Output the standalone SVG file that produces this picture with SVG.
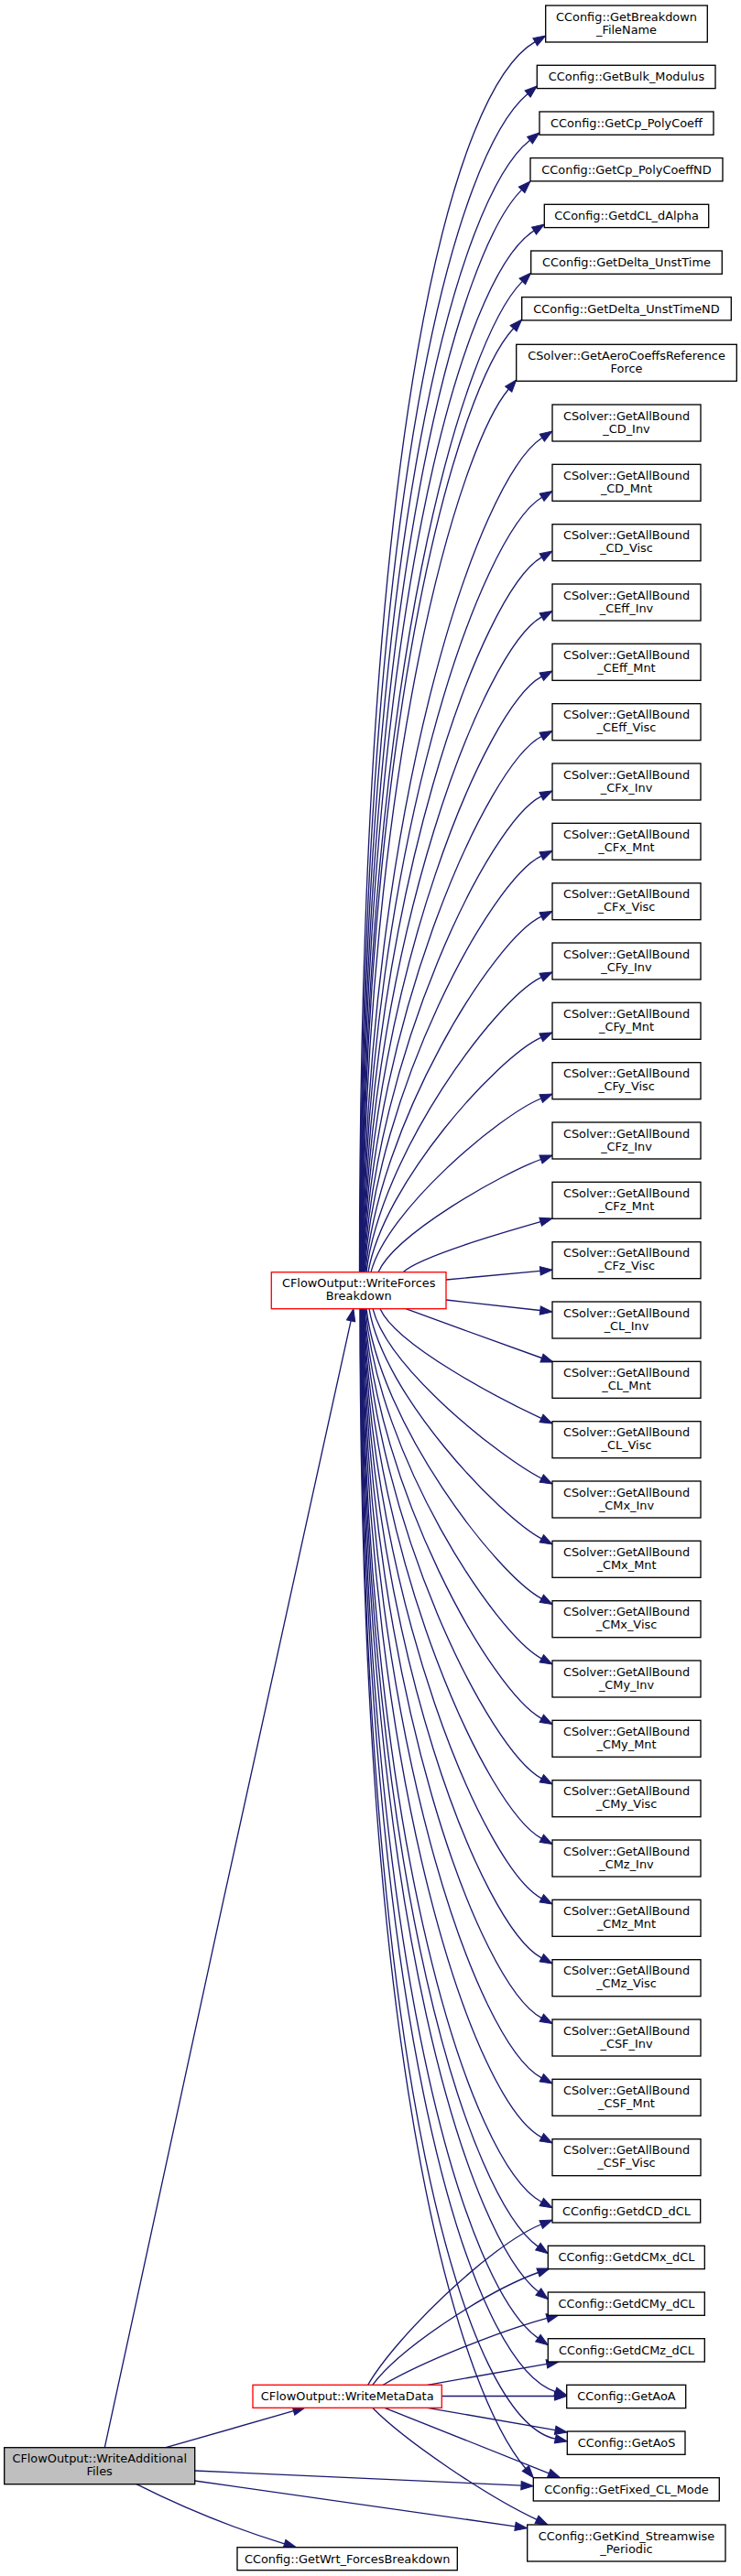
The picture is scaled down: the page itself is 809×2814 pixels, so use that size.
<svg xmlns="http://www.w3.org/2000/svg" width="809" height="2814" viewBox="0 0 809 2814">
<style>
.n rect{fill:#fff;stroke:#000;stroke-width:1.33}
.n.r rect{stroke:#f00}
.n.g rect{fill:#bfbfbf}
text{font-family:"DejaVu Sans","Liberation Sans",sans-serif;font-size:12.9px;text-anchor:middle;fill:#000}
.e path{fill:none;stroke:#191970;stroke-width:1.33;marker-end:url(#a)}
</style>
<defs>
<marker id="a" markerUnits="userSpaceOnUse" viewBox="0 0 14 10" markerWidth="14" markerHeight="10" refX="0" refY="5" orient="auto" overflow="visible">
<path d="M0,0.3 L13.3,5 L0,9.7 z" fill="#191970" stroke="#191970" stroke-width="1"/>
</marker>
</defs>
<rect width="809" height="2814" fill="#fff"/>
<g id="edges" class="e">
<path d="M392.5,1389.7 C392.5,448.9 497.6,95.7 584.2,45.7"/>
<path d="M393,1389.7 C393.9,510.6 501.5,165.2 576.1,102.6"/>
<path d="M393.3,1389.7 C394.9,563.7 503.6,211.8 578.5,153.2"/>
<path d="M393.7,1389.7 C396.1,618.8 504.1,272.9 569.6,207.4"/>
<path d="M394,1389.7 C397.1,663.9 506,300.2 583,252.1"/>
<path d="M394.3,1389.7 C398.2,716.5 507.9,369.8 570.3,307.4"/>
<path d="M394.7,1389.7 C399.4,763.9 501.9,421.6 560.6,358.7"/>
<path d="M395,1389.7 C400.7,823.5 501.8,488.8 555.2,425.2"/>
<path d="M395.3,1389.7 C401.7,869.3 524.1,522.3 591.8,478.3"/>
<path d="M395.6,1389.7 C403,922.5 525,583.3 591.6,543.3"/>
<path d="M396,1389.7 C404.4,974.2 526.6,646.2 591.5,608.7"/>
<path d="M396.3,1389.7 C405.7,1022.5 528.5,708.8 591.4,673.9"/>
<path d="M396.6,1389.7 C406.9,1068.4 530.4,771.6 591.3,739.2"/>
<path d="M397,1389.7 C408.3,1112.3 532.3,834.5 591.2,804.5"/>
<path d="M397.5,1389.7 C409.8,1153.1 534.2,897.5 591,869.8"/>
<path d="M398,1389.7 C411.2,1191.9 536.4,960.6 591,935.1"/>
<path d="M399,1389.7 C413.2,1228 539.1,1025.3 591,1001.1"/>
<path d="M400,1389.7 C415.2,1262.1 541.8,1090.6 591,1067.6"/>
<path d="M402,1389.7 C418.2,1293.3 543.7,1154.4 590.8,1133.4"/>
<path d="M405,1389.7 C422.2,1322.2 545.7,1218.2 590.7,1200"/>
<path d="M413,1389.7 C431.2,1348.2 547.7,1282.1 590.5,1266.5"/>
<path d="M440,1389.7 C459.2,1372.3 549.4,1346.4 590.2,1334.7"/>
<path d="M487,1398 L589.8,1388.3"/>
<path d="M487,1420 L589.8,1431.5"/>
<path d="M443,1429.7 C490,1447 550,1468.5 591.5,1483.5"/>
<path d="M415,1429.7 C433.1,1470.2 549.7,1530.1 591,1549.4"/>
<path d="M407,1429.7 C424.1,1496 547.8,1592.9 591.2,1615"/>
<path d="M403,1429.7 C419.1,1524.6 545.6,1656.5 591.3,1680.8"/>
<path d="M400,1429.7 C415.1,1556 542.9,1720.6 591.3,1746.3"/>
<path d="M399,1429.7 C413,1589.8 540.2,1784.6 591.3,1811.8"/>
<path d="M398,1429.7 C411,1626.6 537.4,1848.7 591.3,1877.3"/>
<path d="M397.5,1429.7 C409.5,1665.7 534.7,1912.7 591.3,1942.8"/>
<path d="M397,1429.7 C408,1708 532.1,1976.8 591.3,2008.3"/>
<path d="M396.6,1429.7 C406.5,1752.4 529.3,2040.9 591.3,2073.8"/>
<path d="M396.3,1429.7 C405.2,1799.9 526.7,2104.5 591.3,2138.8"/>
<path d="M396,1429.7 C403.9,1849.5 523.9,2168.5 591.3,2204.3"/>
<path d="M395.6,1429.7 C402.5,1901.8 521.2,2232.6 591.3,2269.8"/>
<path d="M395.3,1429.7 C401.2,1957.4 518.5,2296.2 591.3,2334.8"/>
<path d="M395,1429.7 C399.8,2020.1 515.6,2365.3 591.3,2405.5"/>
<path d="M394.7,1429.7 C398.7,2064.8 515.3,2403.6 587.4,2454.1"/>
<path d="M394.3,1429.7 C397.5,2112.6 516.6,2447.9 587.8,2503.5"/>
<path d="M394,1429.7 C396.4,2161.7 511.5,2500.9 587.4,2554.1"/>
<path d="M393.7,1429.7 C395.2,2222.2 515.7,2583.1 606.4,2612.6"/>
<path d="M393.3,1429.7 C394,2276.6 510.7,2643.9 606.3,2664.2"/>
<path d="M393,1429.7 C393.2,2311.4 509.9,2620.4 573.8,2696.5"/>
<path d="M401.7,2605.3 C431.7,2553 535,2452.5 590.7,2430"/>
<path d="M406.7,2605.3 C436.7,2565 531,2503 587.5,2482.5"/>
<path d="M418.3,2605.3 C460.8,2580 549,2545.4 597.2,2532.4"/>
<path d="M466.7,2605.3 L596.9,2582.3"/>
<path d="M482.3,2617.5 L605.4,2617.5"/>
<path d="M466.7,2630.3 L606.2,2654.7"/>
<path d="M420,2630.3 L599.3,2701.8"/>
<path d="M406.7,2630.3 C441.7,2666 531.6,2727 586,2752.4"/>
<path d="M114.3,2673.7 C196,2282 300,1830 383.1,1442.8"/>
<path d="M181,2673.7 L320.5,2633.7"/>
<path d="M212.7,2699 L569,2715.1"/>
<path d="M212.7,2710 L562.5,2759.8"/>
<path d="M149,2713.7 C202.4,2740.7 262.8,2764.2 310.6,2778.8"/>
</g>
<g id="WriteAdditionalFiles" class="n g"><rect x="4.7" y="2673.7" width="208" height="40"/><text x="108.7" y="2690.2">CFlowOutput::WriteAdditional</text><text x="108.7" y="2704.2">Files</text></g>
<g id="WriteForcesBreakdown" class="n r"><rect x="296.3" y="1389.7" width="190.7" height="40"/><text x="391.7" y="1406.2">CFlowOutput::WriteForces</text><text x="391.7" y="1420.2">Breakdown</text></g>
<g id="WriteMetaData" class="n r"><rect x="276" y="2605.3" width="206.3" height="25"/><text x="379.2" y="2622.2">CFlowOutput::WriteMetaData</text></g>
<g id="GetWrt_ForcesBreakdown" class="n"><rect x="259" y="2782.7" width="240.3" height="25"/><text x="379.2" y="2799.6">CConfig::GetWrt_ForcesBreakdown</text></g>
<g id="GetBreakdown_FileName" class="n"><rect x="595.7" y="6" width="176.6" height="40"/><text x="684" y="22.5">CConfig::GetBreakdown</text><text x="684" y="36.5">_FileName</text></g>
<g id="GetBulk_Modulus" class="n"><rect x="586.3" y="71.3" width="194.7" height="25.3"/><text x="684" y="88.3">CConfig::GetBulk_Modulus</text></g>
<g id="GetCp_PolyCoeff" class="n"><rect x="589" y="122" width="190" height="25.3"/><text x="684" y="139">CConfig::GetCp_PolyCoeff</text></g>
<g id="GetCp_PolyCoeffND" class="n"><rect x="579" y="172.6" width="210" height="25.3"/><text x="684" y="189.6">CConfig::GetCp_PolyCoeffND</text></g>
<g id="GetdCL_dAlpha" class="n"><rect x="594.3" y="223.3" width="179.4" height="25.3"/><text x="684" y="240.3">CConfig::GetdCL_dAlpha</text></g>
<g id="GetDelta_UnstTime" class="n"><rect x="579.7" y="274" width="208.6" height="25.3"/><text x="684" y="291">CConfig::GetDelta_UnstTime</text></g>
<g id="GetDelta_UnstTimeND" class="n"><rect x="569.7" y="324.6" width="228.6" height="25.3"/><text x="684" y="341.6">CConfig::GetDelta_UnstTimeND</text></g>
<g id="GetAeroCoeffsReferenceForce" class="n"><rect x="563.7" y="376.3" width="240.6" height="40"/><text x="684" y="392.8">CSolver::GetAeroCoeffsReference</text><text x="684" y="406.8">Force</text></g>
<g id="CD_Inv" class="n"><rect x="603" y="442" width="162" height="40"/><text x="684" y="458.5">CSolver::GetAllBound</text><text x="684" y="472.5">_CD_Inv</text></g>
<g id="CD_Mnt" class="n"><rect x="603" y="507.3" width="162" height="40"/><text x="684" y="523.8">CSolver::GetAllBound</text><text x="684" y="537.8">_CD_Mnt</text></g>
<g id="CD_Visc" class="n"><rect x="603" y="572.7" width="162" height="40"/><text x="684" y="589.2">CSolver::GetAllBound</text><text x="684" y="603.2">_CD_Visc</text></g>
<g id="CEff_Inv" class="n"><rect x="603" y="638" width="162" height="40"/><text x="684" y="654.5">CSolver::GetAllBound</text><text x="684" y="668.5">_CEff_Inv</text></g>
<g id="CEff_Mnt" class="n"><rect x="603" y="703.3" width="162" height="40"/><text x="684" y="719.8">CSolver::GetAllBound</text><text x="684" y="733.8">_CEff_Mnt</text></g>
<g id="CEff_Visc" class="n"><rect x="603" y="768.7" width="162" height="40"/><text x="684" y="785.2">CSolver::GetAllBound</text><text x="684" y="799.2">_CEff_Visc</text></g>
<g id="CFx_Inv" class="n"><rect x="603" y="834" width="162" height="40"/><text x="684" y="850.5">CSolver::GetAllBound</text><text x="684" y="864.5">_CFx_Inv</text></g>
<g id="CFx_Mnt" class="n"><rect x="603" y="899.3" width="162" height="40"/><text x="684" y="915.8">CSolver::GetAllBound</text><text x="684" y="929.8">_CFx_Mnt</text></g>
<g id="CFx_Visc" class="n"><rect x="603" y="964.7" width="162" height="40"/><text x="684" y="981.2">CSolver::GetAllBound</text><text x="684" y="995.2">_CFx_Visc</text></g>
<g id="CFy_Inv" class="n"><rect x="603" y="1030" width="162" height="40"/><text x="684" y="1046.5">CSolver::GetAllBound</text><text x="684" y="1060.5">_CFy_Inv</text></g>
<g id="CFy_Mnt" class="n"><rect x="603" y="1095.3" width="162" height="40"/><text x="684" y="1111.8">CSolver::GetAllBound</text><text x="684" y="1125.8">_CFy_Mnt</text></g>
<g id="CFy_Visc" class="n"><rect x="603" y="1160.7" width="162" height="40"/><text x="684" y="1177.2">CSolver::GetAllBound</text><text x="684" y="1191.2">_CFy_Visc</text></g>
<g id="CFz_Inv" class="n"><rect x="603" y="1226" width="162" height="40"/><text x="684" y="1242.5">CSolver::GetAllBound</text><text x="684" y="1256.5">_CFz_Inv</text></g>
<g id="CFz_Mnt" class="n"><rect x="603" y="1291.3" width="162" height="40"/><text x="684" y="1307.8">CSolver::GetAllBound</text><text x="684" y="1321.8">_CFz_Mnt</text></g>
<g id="CFz_Visc" class="n"><rect x="603" y="1356.7" width="162" height="40"/><text x="684" y="1373.2">CSolver::GetAllBound</text><text x="684" y="1387.2">_CFz_Visc</text></g>
<g id="CL_Inv" class="n"><rect x="603" y="1422" width="162" height="40"/><text x="684" y="1438.5">CSolver::GetAllBound</text><text x="684" y="1452.5">_CL_Inv</text></g>
<g id="CL_Mnt" class="n"><rect x="603" y="1487.3" width="162" height="40"/><text x="684" y="1503.8">CSolver::GetAllBound</text><text x="684" y="1517.8">_CL_Mnt</text></g>
<g id="CL_Visc" class="n"><rect x="603" y="1552.7" width="162" height="40"/><text x="684" y="1569.2">CSolver::GetAllBound</text><text x="684" y="1583.2">_CL_Visc</text></g>
<g id="CMx_Inv" class="n"><rect x="603" y="1618" width="162" height="40"/><text x="684" y="1634.5">CSolver::GetAllBound</text><text x="684" y="1648.5">_CMx_Inv</text></g>
<g id="CMx_Mnt" class="n"><rect x="603" y="1683.3" width="162" height="40"/><text x="684" y="1699.8">CSolver::GetAllBound</text><text x="684" y="1713.8">_CMx_Mnt</text></g>
<g id="CMx_Visc" class="n"><rect x="603" y="1748.7" width="162" height="40"/><text x="684" y="1765.2">CSolver::GetAllBound</text><text x="684" y="1779.2">_CMx_Visc</text></g>
<g id="CMy_Inv" class="n"><rect x="603" y="1814" width="162" height="40"/><text x="684" y="1830.5">CSolver::GetAllBound</text><text x="684" y="1844.5">_CMy_Inv</text></g>
<g id="CMy_Mnt" class="n"><rect x="603" y="1879.3" width="162" height="40"/><text x="684" y="1895.8">CSolver::GetAllBound</text><text x="684" y="1909.8">_CMy_Mnt</text></g>
<g id="CMy_Visc" class="n"><rect x="603" y="1944.7" width="162" height="40"/><text x="684" y="1961.2">CSolver::GetAllBound</text><text x="684" y="1975.2">_CMy_Visc</text></g>
<g id="CMz_Inv" class="n"><rect x="603" y="2010" width="162" height="40"/><text x="684" y="2026.5">CSolver::GetAllBound</text><text x="684" y="2040.5">_CMz_Inv</text></g>
<g id="CMz_Mnt" class="n"><rect x="603" y="2075.3" width="162" height="40"/><text x="684" y="2091.8">CSolver::GetAllBound</text><text x="684" y="2105.8">_CMz_Mnt</text></g>
<g id="CMz_Visc" class="n"><rect x="603" y="2140.7" width="162" height="40"/><text x="684" y="2157.2">CSolver::GetAllBound</text><text x="684" y="2171.2">_CMz_Visc</text></g>
<g id="CSF_Inv" class="n"><rect x="603" y="2206" width="162" height="40"/><text x="684" y="2222.5">CSolver::GetAllBound</text><text x="684" y="2236.5">_CSF_Inv</text></g>
<g id="CSF_Mnt" class="n"><rect x="603" y="2271.3" width="162" height="40"/><text x="684" y="2287.8">CSolver::GetAllBound</text><text x="684" y="2301.8">_CSF_Mnt</text></g>
<g id="CSF_Visc" class="n"><rect x="603" y="2336.7" width="162" height="40"/><text x="684" y="2353.2">CSolver::GetAllBound</text><text x="684" y="2367.2">_CSF_Visc</text></g>
<g id="GetdCD_dCL" class="n"><rect x="603" y="2402.7" width="161.7" height="25.3"/><text x="684" y="2419.7">CConfig::GetdCD_dCL</text></g>
<g id="GetdCMx_dCL" class="n"><rect x="598.3" y="2453.3" width="171" height="25.3"/><text x="684" y="2470.3">CConfig::GetdCMx_dCL</text></g>
<g id="GetdCMy_dCL" class="n"><rect x="598.3" y="2504" width="171" height="25.3"/><text x="684" y="2521">CConfig::GetdCMy_dCL</text></g>
<g id="GetdCMz_dCL" class="n"><rect x="598.3" y="2554.7" width="171" height="25.3"/><text x="684" y="2571.7">CConfig::GetdCMz_dCL</text></g>
<g id="GetAoA" class="n"><rect x="618.7" y="2605.3" width="130" height="25.3"/><text x="684" y="2622.3">CConfig::GetAoA</text></g>
<g id="GetAoS" class="n"><rect x="619.3" y="2656" width="128.7" height="25.3"/><text x="684" y="2673">CConfig::GetAoS</text></g>
<g id="GetFixed_CL_Mode" class="n"><rect x="582.3" y="2706.7" width="203" height="25.3"/><text x="684" y="2723.7">CConfig::GetFixed_CL_Mode</text></g>
<g id="GetKind_Streamwise_Periodic" class="n"><rect x="575.7" y="2758" width="216.3" height="40"/><text x="684" y="2774.5">CConfig::GetKind_Streamwise</text><text x="684" y="2788.5">_Periodic</text></g>
</svg>
